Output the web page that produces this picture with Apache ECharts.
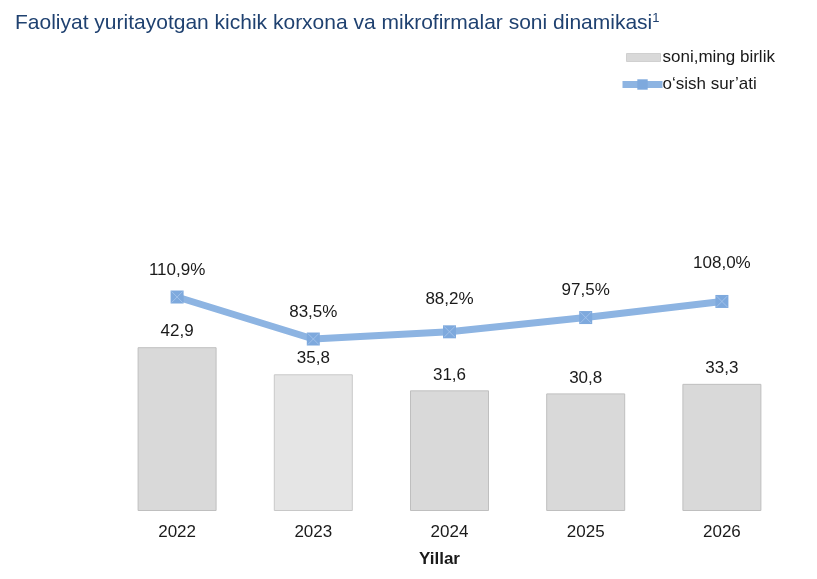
<!DOCTYPE html>
<html>
<head>
<meta charset="utf-8">
<script src="https://cdn.jsdelivr.net/npm/echarts@6/dist/echarts.min.js"></script>
<style>html,body{margin:0;padding:0;background:#fff}#c{width:817px;height:579px}</style>
</head>
<body>
<div id="c"></div>
<script>
var categories = ['2022', '2023', '2024', '2025', '2026'];
var countValues = [42.9, 35.8, 31.6, 30.8, 33.3];
var growthValues = [110.9, 83.5, 88.2, 97.5, 108.0];
var barName = 'soni,ming birlik';
var lineName = 'o\u2018sish sur\u2019ati';
var titleText = 'Faoliyat yuritayotgan kichik korxona va mikrofirmalar soni dinamikasi';
var axisName = 'Yillar';

var fmt = function (v) { return String(v.toFixed(1)).replace('.', ','); };
var FONT = 'Liberation Sans, Arial, sans-serif';
var TXT = '#1a1a1a';

var barData = countValues.map(function (v, i) {
  return i === 1
    ? { value: v, itemStyle: { color: '#e5e5e5', borderColor: '#c8c8c8' } }
    : v;
});
var lineData = growthValues.map(function (v, i) {
  if (i === 2) return { value: v, label: { distance: 17 } };
  if (i === 4) return { value: v, label: { distance: 23 } };
  return v;
});

var chart = echarts.init(document.getElementById('c'), null, { renderer: 'canvas' });
chart.setOption({
  animation: false,
  backgroundColor: '#ffffff',
  textStyle: { fontFamily: FONT },
  title: {
    left: 10, top: 7,
    text: '{t|' + titleText + '}{s|1}',
    textStyle: {
      fontWeight: 'normal',
      rich: {
        t: { fontSize: 21, color: '#1f4170', fontFamily: FONT, fontWeight: 'normal' },
        s: { fontSize: 13, color: '#1f4170', fontFamily: FONT, fontWeight: 'normal', padding: [0, 0, 10, 0] }
      }
    }
  },
  legend: [
    {
      left: 626, top: 49, padding: 0, itemWidth: 34, itemHeight: 8, itemGap: 4,
      data: [{ name: barName, icon: 'rect', itemStyle: { color: '#d9d9d9', borderColor: '#d0d0d0', borderWidth: 1 } }],
      textStyle: { fontSize: 17, color: TXT, fontFamily: FONT, padding: [0, 0, 0, -3] }
    },
    {
      left: 619, top: 76, padding: 0, itemWidth: 40, itemHeight: 13,
      data: [{ name: lineName, lineStyle: { width: 7, color: '#8db4e2' } }],
      textStyle: { fontSize: 17, color: TXT, fontFamily: FONT, padding: [0, 0, 0, -5] }
    }
  ],
  grid: { left: 109, right: 27, top: 91, bottom: 68 },
  xAxis: {
    type: 'category',
    data: categories,
    axisLine: { show: false },
    axisTick: { show: false },
    axisLabel: { fontSize: 17, color: TXT, margin: 13, fontFamily: FONT },
    name: axisName,
    nameLocation: 'middle',
    nameGap: 40,
    nameTextStyle: { fontSize: 17, fontWeight: 'bold', color: TXT, fontFamily: FONT, padding: [0, 20, 0, 0] }
  },
  yAxis: [
    { type: 'value', min: 0, max: 110, show: false, splitLine: { show: false } },
    { type: 'value', min: -28.7, max: 245.3, show: false, splitLine: { show: false } }
  ],
  series: [
    {
      name: barName,
      type: 'bar',
      data: barData,
      barWidth: 79,
      itemStyle: { color: '#d9d9d9', borderColor: '#bfbfbf', borderWidth: 1 },
      label: {
        show: true, position: 'top', distance: 7,
        fontSize: 17, color: TXT, fontFamily: FONT,
        formatter: function (p) { return fmt(p.value); }
      },
      z: 1
    },
    {
      name: lineName,
      type: 'line',
      yAxisIndex: 1,
      data: lineData,
      symbol: 'rect',
      symbolSize: 13,
      lineStyle: { color: '#8db4e2', width: 7 },
      itemStyle: { color: '#7ea9dd', borderColor: '#7ea9dd', borderWidth: 0 },
      label: {
        show: true, position: 'top', distance: 12,
        fontSize: 17, color: TXT, fontFamily: FONT,
        formatter: function (p) { return fmt(p.value) + '%'; }
      },
      z: 3
    },
    {
      name: 'x-mark',
      type: 'scatter',
      yAxisIndex: 1,
      data: growthValues,
      symbol: 'path://M0,0L10,10M10,0L0,10',
      symbolSize: 11,
      silent: true,
      itemStyle: { color: 'rgba(0,0,0,0)', borderColor: '#a8c6ec', borderWidth: 1 },
      z: 4
    }
  ]
});
</script>
</body>
</html>
